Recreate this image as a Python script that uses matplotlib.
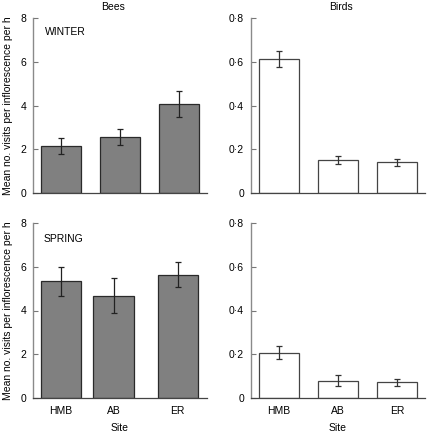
import numpy as np
import matplotlib
matplotlib.use('Agg')
import matplotlib.pyplot as plt
from matplotlib.ticker import FuncFormatter

plt.rcParams['font.family'] = ['Liberation Sans', 'DejaVu Sans']
plt.rcParams['font.size'] = 7.5

sites = ["HMB", "AB", "ER"]

# bar centres (the bottom-left panel has AB shifted a little to the left)
pos_top = [1, 2, 3]
pos_bees_spring = [1, 1.89, 2.98]

bees_winter = [2.15, 2.55, 4.07]
bees_winter_err = [0.38, 0.36, 0.58]
bees_spring = [5.33, 4.68, 5.64]
bees_spring_err = [0.67, 0.80, 0.58]

birds_winter = [0.612, 0.150, 0.140]
birds_winter_err = [0.035, 0.017, 0.016]
birds_spring = [0.208, 0.080, 0.072]
birds_spring_err = [0.030, 0.025, 0.017]

YLABEL = "Mean no. visits per inflorescence per h"

W, H = 428, 433
fig = plt.figure(figsize=(W / 100, H / 100), dpi=100)


def px_axes(x0, x1, ytop, ybot):
    return fig.add_axes([x0 / W, (H - ybot) / H, (x1 - x0) / W, (ybot - ytop) / H])


ax_bw = px_axes(33, 207, 18, 193)
ax_rw = px_axes(251, 425, 18, 193)
ax_bs = px_axes(33, 207, 223, 398)
ax_rs = px_axes(251, 425, 223, 398)

dot_fmt = FuncFormatter(lambda v, _: "0" if abs(v) < 1e-9 else f"{v:.1f}".replace(".", "·"))


def style(ax, ymax, yticks, bottom_labels):
    ax.set_xlim(0.525, 3.475)
    ax.set_ylim(0, ymax)
    ax.set_yticks(yticks)
    for s in ("top", "right"):
        ax.spines[s].set_visible(False)
    ax.spines["left"].set_color("#8a8a8a")
    ax.spines["bottom"].set_color("#444444")
    ax.spines["left"].set_linewidth(1.0)
    ax.spines["bottom"].set_linewidth(0.9)
    ax.tick_params(axis="y", direction="in", length=3.5, width=0.8,
                   color="#777777", pad=5, labelsize=7.5)
    ax.tick_params(axis="x", length=0, pad=6, labelsize=7.5)
    if not bottom_labels:
        ax.set_xticks([])


def bees_bars(ax, pos, vals, err):
    ax.bar(pos, vals, width=0.68, color="#808080", edgecolor="#2a2a2a", linewidth=0.9)
    ax.errorbar(pos, vals, yerr=err, fmt="none", ecolor="#222222",
                elinewidth=0.9, capsize=2.2, capthick=0.9)


def birds_bars(ax, pos, vals, err):
    ax.bar(pos, vals, width=0.67, color="white", edgecolor="#444444", linewidth=0.9)
    ax.errorbar(pos, vals, yerr=err, fmt="none", ecolor="#333333",
                elinewidth=0.9, capsize=2.2, capthick=0.9)


bees_bars(ax_bw, pos_top, bees_winter, bees_winter_err)
bees_bars(ax_bs, pos_bees_spring, bees_spring, bees_spring_err)
birds_bars(ax_rw, pos_top, birds_winter, birds_winter_err)
birds_bars(ax_rs, pos_top, birds_spring, birds_spring_err)

style(ax_bw, 8, [0, 2, 4, 6, 8], False)
style(ax_bs, 8, [0, 2, 4, 6, 8], True)
style(ax_rw, 0.8, [0, 0.2, 0.4, 0.6, 0.8], False)
style(ax_rs, 0.8, [0, 0.2, 0.4, 0.6, 0.8], True)

for ax in (ax_rw, ax_rs):
    ax.yaxis.set_major_formatter(dot_fmt)

ax_bs.set_xticks(pos_bees_spring)
ax_bs.set_xticklabels(sites)
ax_rs.set_xticks(pos_top)
ax_rs.set_xticklabels(sites)

for ax in (ax_bs, ax_rs):
    ax.set_xlabel("Site", fontsize=7.5, labelpad=5)

for ax in (ax_bw, ax_bs):
    ax.set_ylabel(YLABEL, fontsize=7.5)
    ax.yaxis.set_label_coords(-0.115, 0.5)

ax_bw.set_title("Bees", fontsize=7.5, x=0.46, pad=6)
ax_rw.set_title("Birds", fontsize=7.5, x=0.52, pad=6)

ax_bw.text(0.069, 0.92, "WINTER", transform=ax_bw.transAxes, ha="left", va="center", fontsize=7.5)
ax_bs.text(0.063, 0.908, "SPRING", transform=ax_bs.transAxes, ha="left", va="center", fontsize=7.5)

fig.savefig("out.png", dpi=100)
